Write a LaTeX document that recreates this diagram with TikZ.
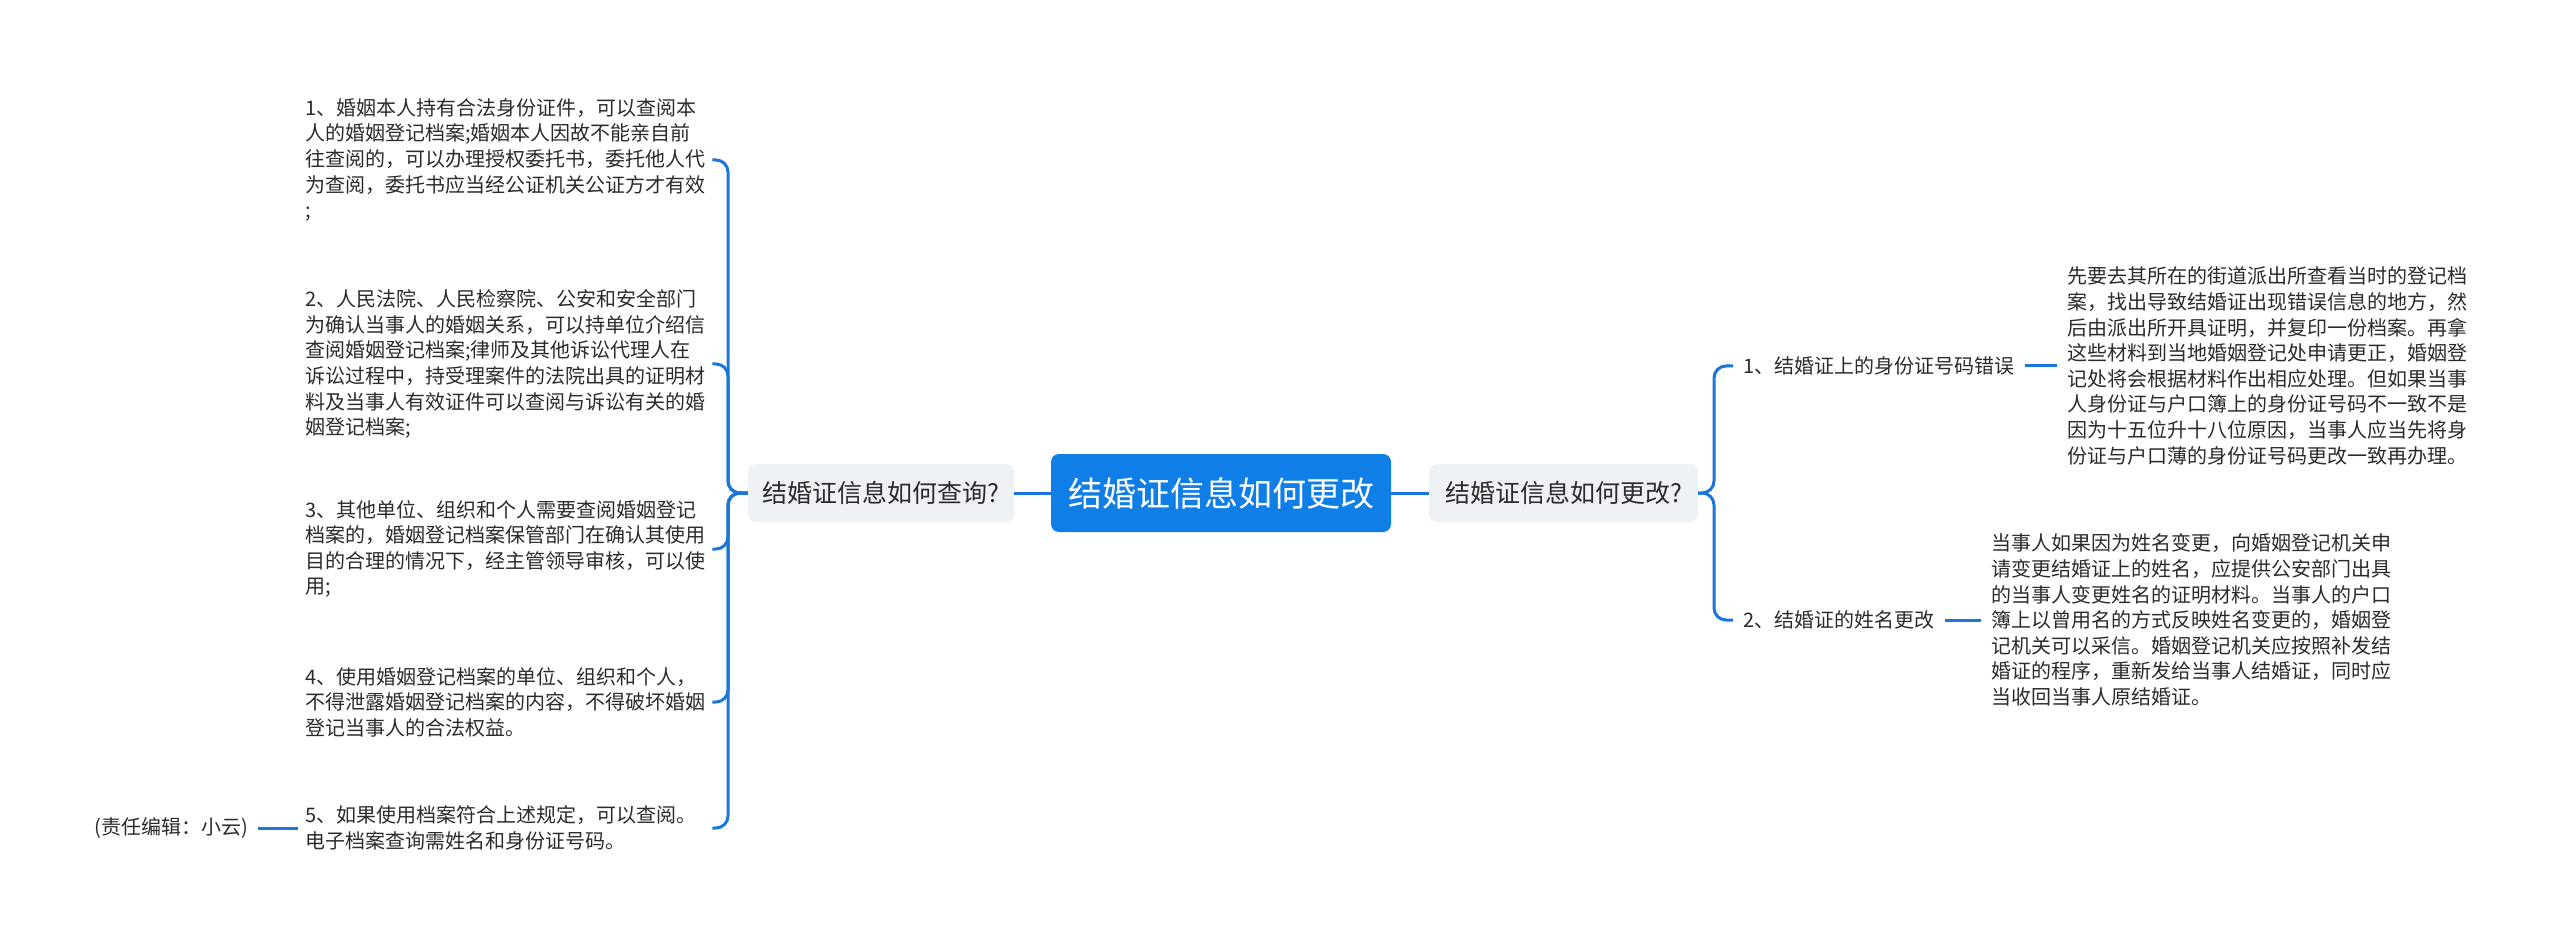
\documentclass[tikz,border=0pt]{standalone}
\usepackage{fontspec}
\setmainfont{Noto Sans CJK SC}
\definecolor{lineblue}{HTML}{1A76DA}
\definecolor{rootblue}{HTML}{0F7EE6}
\definecolor{topicgray}{HTML}{EEF1F5}
\definecolor{txt}{HTML}{2B2B2B}
\tikzset{
  conn/.style={draw=lineblue, line width=3pt, rounded corners=12pt},
  leaf/.style={font=\fontsize{20}{25.6}\selectfont, text=txt, align=left, inner xsep=7pt, inner ysep=4pt},
  topic/.style={fill=topicgray, rounded corners=8pt, font=\fontsize{25}{30}\selectfont, text=txt, minimum height=58pt, inner sep=0pt},
  rootnode/.style={fill=rootblue, rounded corners=8pt, font=\fontsize{34}{40}\selectfont, text=white, minimum width=340pt, minimum height=78pt, inner sep=0pt},
}
\begin{document}
\begin{tikzpicture}[x=1pt, y=-1pt]
\useasboundingbox (0,0) rectangle (2560,949);
\fill[white] (0,0) rectangle (2560,949);

% root and main topics
\node[rootnode] (C) at (1221,493) {结婚证信息如何更改};
\node[topic, minimum width=266pt] (Lq) at (881,493) {结婚证信息如何查询?};
\node[topic, minimum width=269pt] (Rq) at (1563.5,493) {结婚证信息如何更改?};

% left leaves
\node[leaf, text width=400pt, anchor=west] (L1) at (298,160) {1、婚姻本人持有合法身份证件，可以查阅本\\人的婚姻登记档案;婚姻本人因故不能亲自前\\往查阅的，可以办理授权委托书，委托他人代\\为查阅，委托书应当经公证机关公证方才有效\\;};
\node[leaf, text width=400pt, anchor=west] (L2) at (298,364) {2、人民法院、人民检察院、公安和安全部门\\为确认当事人的婚姻关系，可以持单位介绍信\\查阅婚姻登记档案;律师及其他诉讼代理人在\\诉讼过程中，持受理案件的法院出具的证明材\\料及当事人有效证件可以查阅与诉讼有关的婚\\姻登记档案;};
\node[leaf, text width=400pt, anchor=west] (L3) at (298,549) {3、其他单位、组织和个人需要查阅婚姻登记\\档案的，婚姻登记档案保管部门在确认其使用\\目的合理的情况下，经主管领导审核，可以使\\用;};
\node[leaf, text width=400pt, anchor=west] (L4) at (298,702) {4、使用婚姻登记档案的单位、组织和个人，\\不得泄露婚姻登记档案的内容，不得破坏婚姻\\登记当事人的合法权益。};
\node[leaf, text width=400pt, anchor=west] (L5) at (298,828) {5、如果使用档案符合上述规定，可以查阅。\\电子档案查询需姓名和身份证号码。};
\node[leaf, inner xsep=10pt, anchor=east] (ed) at (258,828) {(责任编辑：小云)};

% right leaves
\node[leaf, inner xsep=10pt, anchor=west] (R1) at (1733,366) {1、结婚证上的身份证号码错误};
\node[leaf, inner xsep=10pt, anchor=west] (R2) at (1733,620) {2、结婚证的姓名更改};
\node[leaf, inner xsep=10pt, anchor=west] (D1) at (2057,366) {先要去其所在的街道派出所查看当时的登记档\\案，找出导致结婚证出现错误信息的地方，然\\后由派出所开具证明，并复印一份档案。再拿\\这些材料到当地婚姻登记处申请更正，婚姻登\\记处将会根据材料作出相应处理。但如果当事\\人身份证与户口簿上的身份证号码不一致不是\\因为十五位升十八位原因，当事人应当先将身\\份证与户口薄的身份证号码更改一致再办理。};
\node[leaf, inner xsep=10pt, anchor=west] (D2) at (1981,620) {当事人如果因为姓名变更，向婚姻登记机关申\\请变更结婚证上的姓名，应提供公安部门出具\\的当事人变更姓名的证明材料。当事人的户口\\簿上以曾用名的方式反映姓名变更的，婚姻登\\记机关可以采信。婚姻登记机关应按照补发结\\婚证的程序，重新发给当事人结婚证，同时应\\当收回当事人原结婚证。};

% spine points
\coordinate (ls) at (728,493);
\coordinate (rs) at (1714,493);

% connectors
\draw[conn] (C.west) -- (Lq.east);
\draw[conn] (C.east) -- (Rq.west);
\foreach \n in {L1,L2,L3,L4,L5}{
  \draw[conn] (Lq.west) -- (ls) |- (\n.east);
}
\draw[conn] (L5.west) -- (ed.east);
\foreach \n in {R1,R2}{
  \draw[conn] (Rq.east) -- (rs) |- (\n.west);
}
\draw[conn] (R1.east) -- (D1.west);
\draw[conn] (R2.east) -- (D2.west);
\end{tikzpicture}
\end{document}
